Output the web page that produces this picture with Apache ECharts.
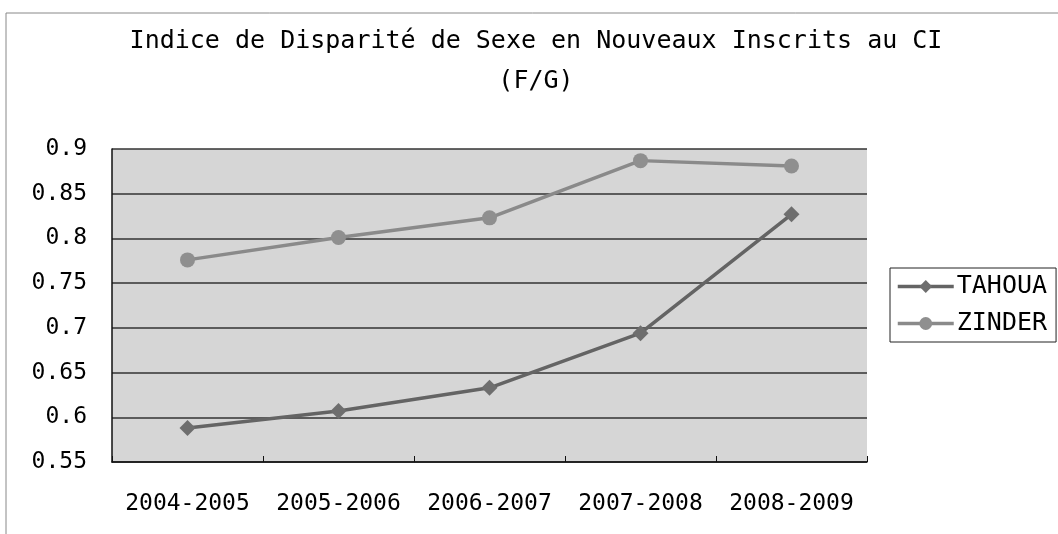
<!DOCTYPE html>
<html>
<head>
    <meta charset="utf-8">
    <title>Indice de Disparité</title>
    <script src="https://cdn.jsdelivr.net/npm/echarts@6/dist/echarts.min.js"></script>
    <style>
        html, body { margin: 0; padding: 0; background: #fff; }
    </style>
</head>
<body>
    <div id="main" style="width: 1058px;height:534px;"></div>
    <script type="text/javascript">
        var myChart = echarts.init(document.getElementById('main'));

        // data
        var years = ['2004-2005', '2005-2006', '2006-2007', '2007-2008', '2008-2009'];
        var tahoua = [0.588, 0.607, 0.633, 0.694, 0.827];
        var zinder = [0.776, 0.801, 0.823, 0.887, 0.881];
        var yTicks = [0.55, 0.6, 0.65, 0.7, 0.75, 0.8, 0.85, 0.9];

        var font = 'DejaVu Sans Mono';

        var option = {
            animation: false,
            backgroundColor: '#fff',
            title: {
                text: 'Indice de Disparité de Sexe en Nouveaux Inscrits au CI\n(F/G)',
                left: 536,
                top: 21,
                textAlign: 'center',
                padding: 0,
                textStyle: {
                    fontFamily: font,
                    fontSize: 25,
                    fontWeight: 'normal',
                    color: '#000',
                    lineHeight: 40
                }
            },
            graphic: [{
                type: 'rect',
                shape: { x: 6, y: 13, width: 1200, height: 700 },
                style: { fill: 'none', stroke: '#888', lineWidth: 1 },
                silent: true
            }],
            legend: {
                orient: 'vertical',
                left: 890,
                top: 268,
                padding: [6, 9, 6, 6],
                itemGap: 12,
                itemWidth: 56,
                itemHeight: 16,
                borderColor: '#222',
                borderWidth: 1,
                lineStyle: { width: 3.5 },
                textStyle: {
                    fontFamily: font,
                    fontSize: 25,
                    lineHeight: 24,
                    color: '#000',
                    padding: [0, 0, 0, -2]
                },
                data: ['TAHOUA', 'ZINDER']
            },
            grid: {
                left: 112,
                right: 191,
                top: 149,
                bottom: 72,
                show: true,
                backgroundColor: '#d6d6d6',
                borderWidth: 0
            },
            xAxis: {
                type: 'category',
                data: years,
                boundaryGap: true,
                axisLine: { lineStyle: { color: '#111', width: 1.5 } },
                axisTick: { show: true, inside: true, length: 6, interval: 0, lineStyle: { color: '#111' } },
                axisLabel: {
                    interval: 0,
                    fontFamily: font,
                    fontSize: 23,
                    color: '#000',
                    margin: 31
                }
            },
            yAxis: {
                type: 'value',
                min: yTicks[0],
                max: yTicks[yTicks.length - 1],
                interval: 0.05,
                axisLine: { show: true, lineStyle: { color: '#111', width: 1.5 } },
                axisTick: { show: false },
                splitLine: { lineStyle: { color: '#333', width: 1.5 } },
                axisLabel: {
                    fontFamily: font,
                    fontSize: 23,
                    color: '#000',
                    margin: 25,
                    formatter: function (v) {
                        return String(Math.round(v * 100) / 100);
                    }
                }
            },
            series: [{
                name: 'TAHOUA',
                type: 'line',
                data: tahoua,
                symbol: 'diamond',
                symbolSize: 16,
                color: '#646464',
                lineStyle: { width: 3.5, color: '#646464' },
                itemStyle: { color: '#6e6e6e' }
            }, {
                name: 'ZINDER',
                type: 'line',
                data: zinder,
                symbol: 'circle',
                symbolSize: 15,
                color: '#8c8c8c',
                lineStyle: { width: 3.5, color: '#8a8a8a' },
                itemStyle: { color: '#8f8f8f' }
            }]
        };

        myChart.setOption(option);
    </script>
</body>
</html>
